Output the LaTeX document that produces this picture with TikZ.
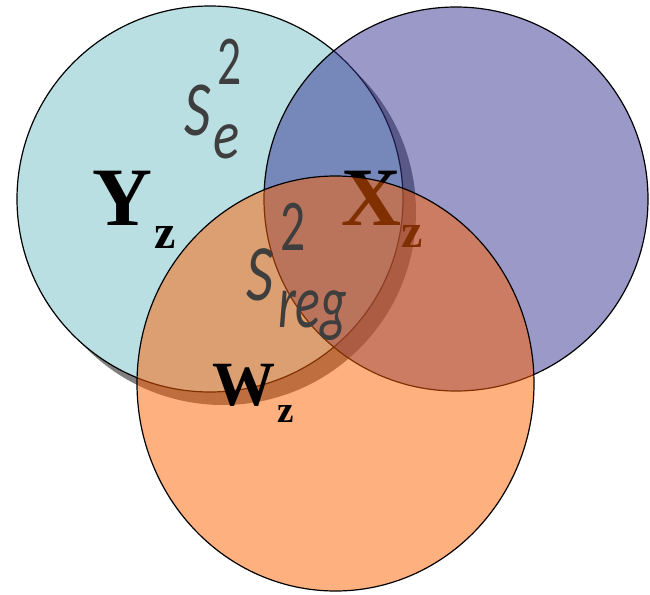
\documentclass[tikz,border=0pt]{standalone}
\usepackage{fontspec}
\setmainfont{Liberation Serif}
\newfontfamily\calfont{Carlito}
\usetikzlibrary{shapes.geometric}

\definecolor{tealset}{RGB}{185,223,227}
\definecolor{xset}{RGB}{53,51,145}
\definecolor{wset}{RGB}{255,97,0}
\definecolor{varfg}{RGB}{62,62,62}

\begin{document}
\begin{tikzpicture}[
  x=1pt, y=-1pt,
  set/.style={draw=black, line width=1.2pt, inner sep=0pt},
  setY/.style={set, circle, minimum size=386pt, fill=tealset},
  setX/.style={set, circle, minimum size=384pt, fill=xset, fill opacity=0.5},
  setW/.style={set, ellipse, minimum width=397pt, minimum height=415pt,
               fill=wset, fill opacity=0.5},
  shade/.style={circle, minimum size=386pt, inner sep=0pt, fill=black, fill opacity=0.5},
  lbl/.style={anchor=base west, inner sep=0pt},
  bigvar/.style={lbl, font=\bfseries\fontsize{83}{83}\selectfont},
  bigsub/.style={lbl, font=\bfseries\fontsize{48}{48}\selectfont},
  varpart/.style={lbl, text=varfg, font=\calfont\itshape\fontsize{#1}{#1}\selectfont},
  varnum/.style={lbl, text=varfg, font=\calfont\fontsize{#1}{#1}\selectfont}
]
\useasboundingbox (0,0) rectangle (650,594);

% sets
\node[shade] (Ysh) at (223,212) {};
\node[setY] (Y) at (210,199) {};
\node[setX] (X) at (456,199) {};
\node[bigvar] (Xlbl) at (341,225) {X};
\node[bigsub] (Xsub) at (401,247) {z};
\node[setW] (W) at (335.5,383.5) {};

% labels
\node[bigvar] (Ylbl) at (92,225) {Y};
\node[bigsub] (Ysub) at (154,248) {z};
\node[bigvar, font=\bfseries\fontsize{63}{63}\selectfont] (Wlbl) at (212,405) {W};
\node[bigsub, font=\bfseries\fontsize{37}{37}\selectfont] (Wsub) at (277,422) {z};

\node[varpart=78] (se) at (184,135) {\scalebox{0.75}[1]{S}};
\node[varnum=70] (se2) at (217,84) {\scalebox{0.68}[1]{2}};
\node[varpart=70] (sesub) at (213,158) {\scalebox{0.78}[1]{e}};

\node[varpart=80] (sreg) at (246,300) {\scalebox{0.75}[1]{S}};
\node[varnum=73] (sreg2) at (280,250) {\scalebox{0.68}[1]{2}};
\node[varpart=76] (sregsub) at (278,327) {\scalebox{0.68}[1]{reg}};
\end{tikzpicture}
\end{document}
